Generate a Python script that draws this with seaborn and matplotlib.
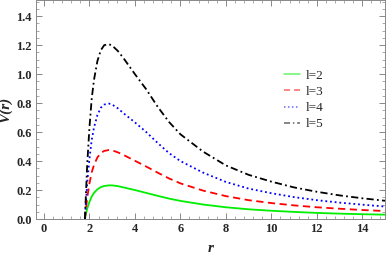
import numpy as np
import pandas as pd
import matplotlib
matplotlib.use("Agg")
import matplotlib.pyplot as plt
import seaborn as sns
from matplotlib.ticker import MultipleLocator
from matplotlib.lines import Line2D

r = [1.8, 1.9, 2.0, 2.1, 2.2, 2.35, 2.5, 2.65, 2.85, 3.0, 3.25, 3.5, 4.0, 4.5,
     5.0, 5.5, 6.0, 7.0, 8.0, 9.0, 10.0, 11.0, 12.0, 13.0, 14.0, 15.0]
v_l2 = [0, 0.07, 0.118, 0.155, 0.18, 0.205, 0.22, 0.228, 0.232, 0.232, 0.227, 0.218,
        0.2, 0.18, 0.16, 0.141, 0.125, 0.1, 0.081, 0.067, 0.057, 0.049, 0.042, 0.037,
        0.033, 0.03]
v_l3 = [0, 0.145, 0.245, 0.322, 0.373, 0.425, 0.455, 0.47, 0.476, 0.474, 0.46, 0.442,
        0.402, 0.362, 0.32, 0.28, 0.246, 0.196, 0.158, 0.13, 0.11, 0.094, 0.081, 0.071,
        0.062, 0.055]
v_l4 = [0, 0.245, 0.415, 0.545, 0.63, 0.717, 0.768, 0.79, 0.797, 0.79, 0.764, 0.73,
        0.667, 0.6, 0.525, 0.455, 0.4, 0.32, 0.256, 0.21, 0.178, 0.151, 0.13, 0.113,
        0.099, 0.086]
v_l5 = [0, 0.37, 0.63, 0.83, 0.96, 1.09, 1.165, 1.2, 1.207, 1.197, 1.16, 1.11,
        1.0, 0.895, 0.775, 0.67, 0.585, 0.465, 0.37, 0.305, 0.258, 0.218, 0.188, 0.163,
        0.143, 0.126]
labels = ["l=2", "l=3", "l=4", "l=5"]
xticks = [0, 2, 4, 6, 8, 10, 12, 14]
yticks = [0.0, 0.2, 0.4, 0.6, 0.8, 1.0, 1.2, 1.4]

sns.set_style("ticks")
plt.rcParams['font.family'] = ['Liberation Serif', 'DejaVu Serif']

fig = plt.figure(figsize=(3.92, 2.57), dpi=100)
ax = fig.add_axes([36/392, 38/257, (385-36)/392, (257-38)/257 - 0.001])

series = [v_l2, v_l3, v_l4, v_l5]
colors = ["#00ee00", "#ff0000", "#0000ff", "#000000"]
styles = ["-", (0, (4, 2.5)), (0, (1, 1.6)), (0, (4, 1.8, 1, 1.8))]
for vals, lab, c, ls in zip(series, labels, colors, styles):
    df = pd.DataFrame({"r": r, "V": vals})
    sns.lineplot(data=df, x="r", y="V", ax=ax, color=c, linestyle=ls, lw=1.3,
                 label=lab, legend=False, sort=False)

ax.set_xlim(-0.35, 15)
ax.set_ylim(0, 1.51)
ax.set_xticks(xticks)
ax.set_yticks(yticks)
ax.set_xticklabels([str(t) for t in xticks])
ax.set_yticklabels([f"{t:.1f}" for t in yticks])
ax.xaxis.set_minor_locator(MultipleLocator(0.4))
ax.yaxis.set_minor_locator(MultipleLocator(0.05))
ax.tick_params(which="both", direction="in", top=True, right=True, color="#888888",
               labelsize=9, pad=3)
ax.tick_params(which="major", length=4, width=0.7)
ax.tick_params(which="minor", length=2, width=0.5)
for lab in ax.get_xticklabels() + ax.get_yticklabels():
    lab.set_fontweight("bold")
for s in ax.spines.values():
    s.set_color("#888888")
    s.set_linewidth(0.7)

ax.set_ylabel("V(r)", fontsize=11, fontweight="bold", fontstyle="italic", labelpad=3)
ax.set_xlabel("r", fontsize=11, fontweight="bold", fontstyle="italic", labelpad=5)

handles = [Line2D([0], [0], color=c, linestyle=ls, lw=1.1, alpha=0.6)
           for c, ls in zip(colors, styles)]
ax.legend(handles, labels, loc="upper left", bbox_to_anchor=(0.683, 0.725),
          frameon=False, fontsize=9.5, handlelength=1.25, handletextpad=0.4,
          labelspacing=0.3, borderpad=0.2)

fig.savefig("out.png", dpi=100)
